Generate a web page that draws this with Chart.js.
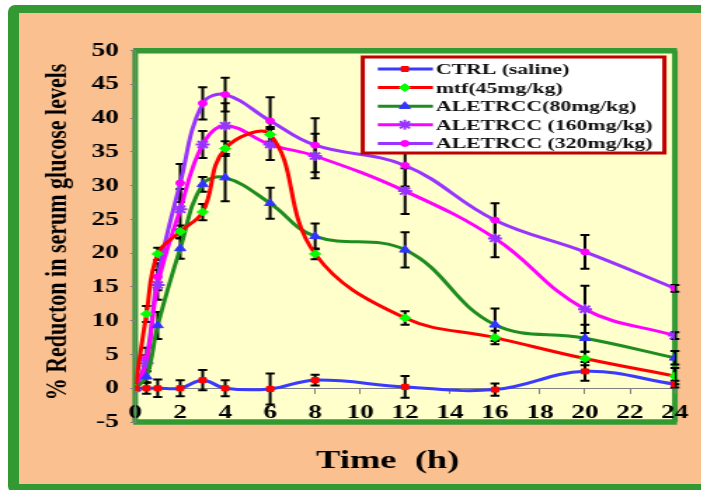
<!DOCTYPE html>
<html>
<head>
<meta charset="utf-8">
<script src="https://cdn.jsdelivr.net/npm/chart.js@4.4.1/dist/chart.umd.min.js"></script>
<style>
  html, body { margin:0; padding:0; width:701px; height:490px; overflow:hidden; background:#fff; }
  #frame { position:absolute; left:8px; top:5px; width:713px; height:488px; box-sizing:border-box;
           background:#fac090; border:solid #339933; border-width:8px 9px 9px 11px; border-radius:7px; }
  #wrap { position:absolute; left:0; top:0; width:500.7px; height:490px; transform:scaleX(1.4); transform-origin:0 0; }
</style>
</head>
<body>
<div id="frame"></div>
<div id="wrap"><canvas id="c"></canvas></div>
<script>
// time points (h)
var times = [0, 0.5, 1, 2, 3, 4, 6, 8, 12, 16, 20, 24];

// % reduction in serum glucose
var ctrl    = [0, 0, 0, 0, 1.2, 0, -0.1, 1.2, 0.2, -0.2, 2.5, 0.6];
var mtf     = [0, 11, 19.9, 23.2, 26.1, 35.5, 37.6, 19.9, 10.4, 7.5, 4.4, 1.8];
var ale80   = [0, 1.7, 9.3, 20.7, 30.2, 31.2, 27.4, 22.5, 20.5, 9.4, 7.4, 4.5];
var ale160  = [0, 3.7, 15.3, 26.5, 36.1, 38.9, 36.1, 34.4, 29.2, 22.2, 11.7, 7.8];
var ale320  = [0, 4.5, 16.5, 30.4, 42.2, 43.5, 39.6, 36.0, 33.0, 24.9, 20.2, 14.8];

// error bars (+/-)
var ctrlErr   = [0, 0.8, 1.3, 1.2, 1.5, 1.2, 2.3, 0.8, 1.6, 0.9, 1.4, 0.5];
var mtfErr    = [0, 1.2, 0.9, 0.9, 1.2, 1.1, 1.1, 0.8, 1.0, 1.0, 1.0, 1.2];
var ale80Err  = [0, 0.8, 2.0, 1.5, 1.1, 3.5, 2.3, 1.9, 2.6, 2.4, 2.0, 1.0];
var ale160Err = [0, 1.2, 2.2, 3.0, 2.0, 3.3, 2.3, 3.3, 3.4, 2.8, 3.5, 0.5];
var ale320Err = [0, 1.5, 2.0, 2.8, 2.4, 2.5, 3.5, 4.0, 3.1, 2.5, 2.5, 0.5];

var names = ["CTRL (saline)", "mtf(45mg/kg)", "ALETRCC(80mg/kg)", "ALETRCC (160mg/kg)", "ALETRCC (320mg/kg)"];
var xTitle = "Time  (h)";
var yTitle = "% Reducton in serum glucose levels";

var series  = [ctrl, mtf, ale80, ale160, ale320];
var errs    = [ctrlErr, mtfErr, ale80Err, ale160Err, ale320Err];
var lineCol = ["#3a3aff", "#ff0000", "#1e8c1e", "#ff00ff", "#9933ff"];
var markCol = ["#ff0000", "#00ff00", "#3333ff", "#9933ff", "#ff00ff"];
var marks   = ["rect", "rectRot", "triangle", "star", "circle"];
var markR   = [3.5, 4, 4.5, 5, 3];

var SERIF = "'Liberation Serif', 'Times New Roman', serif";

function pts(arr){
  var out = [];
  for (var i=0;i<times.length;i++) out.push({x:times[i], y:arr[i]});
  return out;
}

var datasets = [];
for (var d=0; d<series.length; d++){
  datasets.push({
    label: names[d], data: pts(series[d]),
    borderColor: lineCol[d], borderWidth: 3, tension: 0.4, fill: false,
    pointStyle: marks[d], pointRadius: markR[d], pointBorderWidth: marks[d]=="star" ? 2 : 1,
    pointBackgroundColor: markCol[d], pointBorderColor: markCol[d]
  });
}

var decor = {
  id: "decor",
  beforeDraw: function(chart){
    var a = chart.chartArea, ctx = chart.ctx;
    ctx.save();
    ctx.fillStyle = "#ffffcc";
    ctx.fillRect(a.left, a.top, a.right-a.left, a.bottom-a.top);
    ctx.strokeStyle = "#339933";
    ctx.lineWidth = 5.5;
    ctx.beginPath(); ctx.moveTo(a.left-1.5, a.top); ctx.lineTo(a.right+1.5, a.top);
    ctx.moveTo(a.left-1.5, a.bottom); ctx.lineTo(a.right+1.5, a.bottom); ctx.stroke();
    ctx.lineWidth = 4;
    ctx.beginPath(); ctx.moveTo(a.left, a.top); ctx.lineTo(a.left, a.bottom);
    ctx.moveTo(a.right, a.top); ctx.lineTo(a.right, a.bottom); ctx.stroke();
    ctx.restore();
  },
  beforeDatasetsDraw: function(chart){
    var ctx = chart.ctx, xs = chart.scales.x, ys = chart.scales.y;
    ctx.save();
    ctx.strokeStyle = "#000"; ctx.lineWidth = 2;
    for (var d=0; d<errs.length; d++){
      for (var i=0; i<times.length; i++){
        var e = errs[d][i]; if (!e) continue;
        var x = xs.getPixelForValue(times[i]);
        var y1 = ys.getPixelForValue(series[d][i]+e), y2 = ys.getPixelForValue(series[d][i]-e);
        ctx.beginPath();
        ctx.moveTo(x, y1); ctx.lineTo(x, y2);
        ctx.moveTo(x-3.2, y1); ctx.lineTo(x+3.2, y1);
        ctx.moveTo(x-3.2, y2); ctx.lineTo(x+3.2, y2);
        ctx.stroke();
      }
    }
    ctx.restore();
  },
  afterDraw: function(chart){
    var ctx = chart.ctx;
    ctx.save();
    // axis titles
    ctx.fillStyle = "#000";
    ctx.textAlign = "center"; ctx.textBaseline = "middle";
    ctx.font = "bold 26px " + SERIF;
    ctx.fillText(xTitle, 276.4, 461);
    ctx.translate(41.4, 232); ctx.rotate(-Math.PI/2);
    ctx.font = "bold 22px " + SERIF;
    ctx.fillText(yTitle, 0, 0);
    ctx.restore();

    // legend
    ctx.save();
    var lx = 258.6, ly = 57, lw = 215, lh = 96;
    ctx.fillStyle = "#fff"; ctx.fillRect(lx, ly, lw, lh);
    ctx.strokeStyle = "#c00000"; ctx.lineWidth = 3; ctx.strokeRect(lx, ly, lw, lh);
    ctx.font = "bold 15.5px " + SERIF;
    ctx.textAlign = "left"; ctx.textBaseline = "middle";
    for (var i=0; i<names.length; i++){
      var y = 69 + i*18.6;
      ctx.strokeStyle = lineCol[i]; ctx.lineWidth = 3;
      ctx.beginPath(); ctx.moveTo(269.3, y); ctx.lineTo(308.6, y); ctx.stroke();
      ctx.fillStyle = markCol[i]; ctx.strokeStyle = markCol[i];
      ctx.lineWidth = marks[i]=="star" ? 2 : 1;
      Chart.helpers.drawPoint(ctx, {pointStyle: marks[i], radius: markR[i], borderWidth: ctx.lineWidth, rotation: 0}, 288.6, y);
      ctx.fillStyle = "#111";
      ctx.fillText(names[i], 310.7, y+1);
    }
    ctx.restore();
  }
};

var tickFont = { family: SERIF, size: 19.5, weight: "bold" };

new Chart(document.getElementById("c"), {
  type: "line",
  data: { datasets: datasets },
  options: {
    responsive: true, maintainAspectRatio: false, animation: false,
    layout: { padding: { left: 0, top: 50.7, right: 19.6, bottom: 68 } },
    plugins: { legend: { display: false }, tooltip: { enabled: false } },
    scales: {
      x: {
        type: "linear", min: 0, max: 24, position: { y: 0 },
        ticks: { stepSize: 2, padding: 8, color: "#000", font: tickFont },
        grid: { drawOnChartArea: false, drawTicks: true, tickLength: 5, color: "#808080" },
        border: { display: true, color: "#808080", width: 1 }
      },
      y: {
        min: -5, max: 50,
        ticks: { stepSize: 5, padding: 8, color: "#000", font: tickFont },
        grid: { drawOnChartArea: false, drawTicks: true, tickLength: 3.6, color: "#808080" },
        border: { display: true, color: "#808080", width: 1 },
        afterFit: function(s){ s.width = 96.4; }
      }
    }
  },
  plugins: [decor]
});
</script>
</body>
</html>
